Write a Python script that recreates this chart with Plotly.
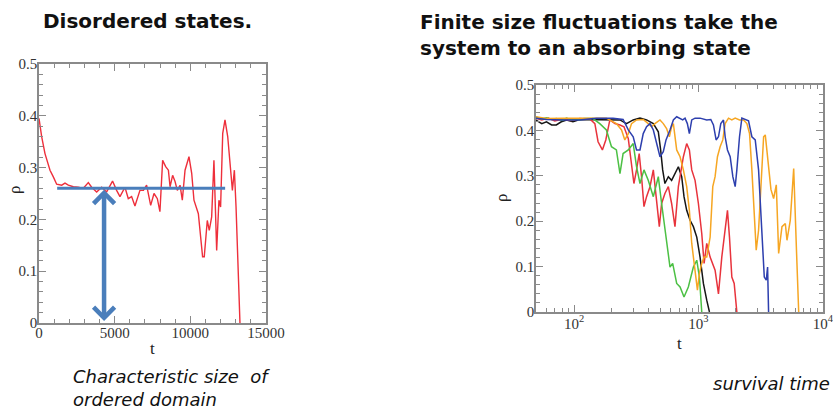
import plotly.graph_objects as go

# ---------------- data: left panel (disordered state) ----------------
t_left = [0, 176, 396, 727, 947, 1167, 1500, 1718, 1938, 2270, 2600, 2930, 3260, 3480, 3810,
          4140, 4470, 4860, 5130, 5350, 5680, 5900, 6120, 6340, 6670, 6900, 7110, 7380, 7600,
          7820, 7990, 8170, 8370, 8550, 8660, 8830, 8990, 9140, 9320, 9470, 9650, 9910, 10090,
          10240, 10530, 10810, 10920, 11120, 11250, 11410, 11560, 11740, 11890, 12000, 12140,
          12290, 12470, 12620, 12780, 12910, 13020, 13280]
rho_left = [0.395, 0.36, 0.327, 0.295, 0.282, 0.268, 0.266, 0.27, 0.266, 0.263, 0.262, 0.26, 0.271,
            0.262, 0.253, 0.262, 0.253, 0.274, 0.256, 0.244, 0.262, 0.24, 0.244, 0.226, 0.256,
            0.256, 0.266, 0.227, 0.25, 0.24, 0.215, 0.314, 0.302, 0.295, 0.263, 0.285, 0.273,
            0.256, 0.266, 0.237, 0.295, 0.321, 0.289, 0.237, 0.211, 0.128, 0.128, 0.198, 0.179,
            0.205, 0.314, 0.14, 0.237, 0.224, 0.366, 0.392, 0.36, 0.314, 0.256, 0.295, 0.224, 0.0]

plateau_level = 0.26
plateau_t = [1200, 12300]
arrow_t = 4300

# ---------------- data: right panel (runs on log time) ----------------
black_t = [49, 55, 60, 66, 72, 79, 87, 98, 111, 142, 182, 234, 264, 299, 339, 383, 434, 476, 497,
           516, 538, 573, 609, 648, 690, 734, 766, 805, 857, 911, 970, 1031, 1097, 1167, 1227]
black_rho = [0.423, 0.415, 0.419, 0.412, 0.412, 0.419, 0.423, 0.419, 0.424, 0.424, 0.424, 0.423,
             0.415, 0.423, 0.427, 0.423, 0.415, 0.397, 0.357, 0.313, 0.283, 0.298, 0.290, 0.305,
             0.320, 0.298, 0.254, 0.224, 0.202, 0.188, 0.165, 0.121, 0.063, 0.026, 0.0]

red_t = [49, 55, 62, 70, 82, 95, 111, 134, 147, 156, 169, 180, 194, 213, 234, 252, 273, 290, 303,
         318, 334, 349, 365, 383, 408, 434, 461, 485, 506, 538, 573, 609, 648, 690, 757, 805, 846,
         884, 940, 1000, 1064, 1111, 1167, 1242, 1362, 1450, 1542, 1641, 1713, 1778, 1857, 1940, 2038]
red_rho = [0.427, 0.423, 0.427, 0.421, 0.425, 0.422, 0.426, 0.425, 0.415, 0.375, 0.357, 0.379,
           0.423, 0.415, 0.412, 0.408, 0.382, 0.320, 0.283, 0.313, 0.349, 0.298, 0.232, 0.254,
           0.276, 0.313, 0.246, 0.188, 0.239, 0.261, 0.276, 0.239, 0.188, 0.276, 0.342, 0.371,
           0.357, 0.313, 0.290, 0.239, 0.173, 0.107, 0.151, 0.121, 0.092, 0.040, 0.121, 0.180,
           0.224, 0.165, 0.077, 0.063, 0.0]

green_t = [49, 55, 60, 66, 72, 80, 87, 95, 103, 111, 120, 134, 142, 161, 182, 200, 219, 234, 248,
           273, 299, 318, 339, 365, 395, 434, 476, 506, 538, 591, 621, 669, 712, 766, 830, 911,
           970, 1019, 1064]
green_rho = [0.430, 0.425, 0.428, 0.424, 0.426, 0.422, 0.427, 0.423, 0.425, 0.423, 0.426, 0.427,
             0.426, 0.415, 0.401, 0.364, 0.357, 0.305, 0.349, 0.357, 0.371, 0.320, 0.283, 0.313,
             0.290, 0.254, 0.298, 0.239, 0.180, 0.099, 0.107, 0.063, 0.055, 0.033, 0.055, 0.099,
             0.114, 0.077, 0.0]

orange_t = [49, 60, 82, 111, 134, 182, 219, 241, 256, 273, 290, 318, 360, 395, 421, 447, 491, 522,
            555, 584, 609, 629, 669, 712, 757, 805, 846, 884, 940, 982, 1019, 1064, 1111, 1167,
            1242, 1305, 1362, 1423, 1495, 1571, 1641, 1746, 1857, 1976, 2141, 2307, 2454, 2578,
            2692, 2812, 2917, 3047, 3183, 3345, 3450, 3668, 3831, 4026, 4230, 4419, 4700, 5000,
            5156, 5480, 5838, 6134, 6406]
orange_rho = [0.430, 0.426, 0.427, 0.428, 0.427, 0.427, 0.415, 0.401, 0.379, 0.393, 0.415, 0.423,
              0.424, 0.415, 0.408, 0.415, 0.423, 0.415, 0.404, 0.386, 0.408, 0.415, 0.357, 0.342,
              0.313, 0.276, 0.224, 0.151, 0.092, 0.048, 0.085, 0.107, 0.121, 0.121, 0.165, 0.276,
              0.298, 0.342, 0.364, 0.379, 0.415, 0.427, 0.423, 0.427, 0.423, 0.423, 0.415, 0.393,
              0.313, 0.224, 0.136, 0.180, 0.280, 0.386, 0.390, 0.327, 0.270, 0.250, 0.280, 0.129,
              0.188, 0.195, 0.158, 0.202, 0.316, 0.143, 0.0]

blue_t = [49, 60, 82, 111, 151, 206, 248, 273, 299, 318, 339, 360, 383, 408, 434, 461, 491, 522,
          549, 591, 629, 669, 712, 748, 781, 815, 846, 884, 940, 1031, 1167, 1258, 1321, 1388,
          1450, 1514, 1591, 1641, 1713, 1801, 1892, 1976, 2038, 2141, 2236, 2379, 2530, 2692,
          2864, 3047, 3242, 3387, 3513, 3601, 3668]
blue_rho = [0.427, 0.424, 0.423, 0.423, 0.427, 0.427, 0.424, 0.401, 0.386, 0.357, 0.357, 0.393,
            0.408, 0.415, 0.401, 0.375, 0.342, 0.353, 0.379, 0.401, 0.423, 0.430, 0.427, 0.423,
            0.427, 0.415, 0.393, 0.423, 0.427, 0.427, 0.423, 0.424, 0.412, 0.379, 0.386, 0.415,
            0.423, 0.386, 0.357, 0.342, 0.298, 0.276, 0.313, 0.386, 0.427, 0.424, 0.421, 0.386,
            0.379, 0.313, 0.158, 0.077, 0.070, 0.099, 0.0]

x_ticks_left = [0, 5000, 10000, 15000]
x_ticktext_left = ["0", "5000", "10000", "15000"]
y_ticks = [0, 0.1, 0.2, 0.3, 0.4, 0.5]
y_ticktext = ["0", "0.1", "0.2", "0.3", "0.4", "0.5"]
x_ticks_right = [100, 1000, 10000]
x_ticktext_right = ["10<sup>2</sup>", "10<sup>3</sup>", "10<sup>4</sup>"]
x_minor_right = [60, 70, 80, 90, 200, 300, 400, 500, 600, 700, 800, 900,
                 2000, 3000, 4000, 5000, 6000, 7000, 8000, 9000]

# ---------------- styles ----------------
W, H = 833, 412
FRAME = "#8a8a8a"
TICKFONT = dict(family="Liberation Serif", size=15, color="#333333")
HILITE = "#4a7ebb"


def px_x(p):
    return p / W


def px_y(p):
    return 1 - p / H


fig = go.Figure()

fig.add_trace(go.Scatter(x=t_left, y=rho_left, mode="lines", xaxis="x", yaxis="y",
                         line=dict(color="#ee2f3b", width=1.4), showlegend=False))
fig.add_trace(go.Scatter(x=plateau_t, y=[plateau_level, plateau_level], mode="lines",
                         xaxis="x", yaxis="y", line=dict(color=HILITE, width=3), showlegend=False))

series = [
    (black_t, black_rho, "#151515"),
    (red_t, red_rho, "#e8333c"),
    (green_t, green_rho, "#4cc044"),
    (orange_t, orange_rho, "#f6a623"),
    (blue_t, blue_rho, "#2d3fae"),
]
for tx, ry, col in series:
    fig.add_trace(go.Scatter(x=tx, y=ry, mode="lines", xaxis="x2", yaxis="y2",
                             line=dict(color=col, width=1.5), showlegend=False))

common = dict(showgrid=False, zeroline=False, showline=True, linecolor=FRAME, linewidth=1.5,
              mirror="allticks", ticks="inside", ticklen=7, tickwidth=1, tickcolor=FRAME,
              tickfont=TICKFONT, automargin=False, ticklabeloverflow="allow")

fig.update_layout(
    width=W, height=H, autosize=False,
    margin=dict(l=0, r=0, t=0, b=0, autoexpand=False),
    paper_bgcolor="white", plot_bgcolor="white",
    xaxis=dict(domain=[px_x(39), px_x(266)], range=[0, 15000], anchor="y",
               tickvals=x_ticks_left, ticktext=x_ticktext_left, ticklabelstandoff=-5,
               minor=dict(dtick=1000, ticks="inside", ticklen=4, tickcolor=FRAME),
               **common),
    yaxis=dict(domain=[px_y(323), px_y(64)], range=[0, 0.5], anchor="x",
               tickvals=y_ticks, ticktext=y_ticktext, ticklabelstandoff=-3,
               minor=dict(dtick=0.02, ticks="inside", ticklen=4, tickcolor=FRAME),
               **common),
    xaxis2=dict(domain=[px_x(536), px_x(823)], type="log", range=[1.694, 4.002], anchor="y2",
                tickvals=x_ticks_right, ticktext=x_ticktext_right, ticklabelstandoff=-3,
                minor=dict(tickvals=x_minor_right, ticks="inside", ticklen=4, tickcolor=FRAME),
                **common),
    yaxis2=dict(domain=[px_y(312), px_y(85)], range=[0, 0.5], anchor="x2",
                tickvals=y_ticks, ticktext=y_ticktext, ticklabelstandoff=-3,
                minor=dict(dtick=0.02, ticks="inside", ticklen=4, tickcolor=FRAME),
                **common),
)

# double arrow (characteristic size)
fig.add_annotation(x=arrow_t, y=0.004, ax=arrow_t, ay=plateau_level,
                   xref="x", yref="y", axref="x", ayref="y", text="", showarrow=True,
                   arrowhead=4, startarrowhead=4, arrowside="end+start",
                   arrowwidth=4.5, arrowsize=0.9, startarrowsize=0.9, arrowcolor=HILITE)

BOLD = dict(family="DejaVu Sans", size=20, color="#111111")
ITAL = dict(family="DejaVu Sans", size=18, color="#111111")
AXT = dict(family="Liberation Serif", size=17, color="#222222")


def label(text, x, y, font, xanchor="left", angle=0, yanchor="middle"):
    fig.add_annotation(text=text, x=px_x(x), y=px_y(y), xref="paper", yref="paper",
                       xanchor=xanchor, yanchor=yanchor, align="left", showarrow=False,
                       font=font, textangle=angle, borderpad=0)


label("<b>Disordered states.</b>", 42, 21, BOLD)
label("<b>Finite size fluctuations take the<br>system to an absorbing state</b>", 419, 35, BOLD)
label("<i>Characteristic size  of<br>ordered domain</i>", 72, 388, ITAL)
label("<i>survival time</i>", 831, 383, ITAL, xanchor="right")

# axis titles
label("ρ", 14, 190, AXT, xanchor="center", angle=-90)
label("t", 152, 348, AXT, xanchor="center")
label("ρ", 501, 198, AXT, xanchor="center", angle=-90)
label("t", 679, 343, AXT, xanchor="center")

fig.write_html("out.html")
